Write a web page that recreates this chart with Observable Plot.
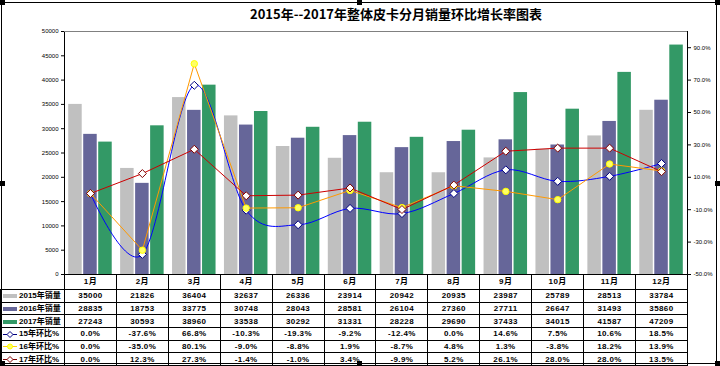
<!DOCTYPE html>
<html>
<head>
<meta charset="utf-8">
<script src="https://cdn.jsdelivr.net/npm/d3@7"></script>
<script src="https://cdn.jsdelivr.net/npm/@observablehq/plot@0.6"></script>
<style>
  html, body { margin: 0; padding: 0; background: #fff; }
  #root { position: relative; width: 720px; height: 366px; overflow: hidden; font-family: "Liberation Sans", "Noto Sans CJK SC", sans-serif; }
  #title { position: absolute; top: 4px; left: 396px; transform: translateX(-50%); white-space: nowrap; font: bold 13px "Noto Sans CJK SC", sans-serif; line-height: 20px; color: #000; }
  .layer { position: absolute; left: 0; top: 0; }
  .layer svg { overflow: visible; background: transparent; }
  #tbl { position: absolute; left: 0; top: 274px; border-collapse: collapse; table-layout: fixed; width: 687px; font: bold 8px "Liberation Sans", "Noto Sans CJK SC", sans-serif; color: #000; letter-spacing: 0.4px; }
  #tbl td { padding: 0; text-align: center; border: 1px solid #000; height: 11.7px; line-height: 11px; white-space: nowrap; overflow: hidden; }
  #tbl tr.head td { height: 15px; border-top: none; }
  #tbl tr.head td.corner { border-left: none; border-top: none; }
  #tbl td.lab { text-align: left; padding-left: 2px; letter-spacing: 0; }
  #tbl td.lab svg { vertical-align: middle; margin-right: 1px; }
  #border { position: absolute; left: 1px; top: 2px; width: 716px; height: 362px; border: 1px solid #000; box-sizing: border-box; pointer-events: none; }
  .h { position: absolute; width: 5px; height: 5px; background: #000; }
</style>
</head>
<body>
<div id="root">
  <div id="border"></div>
  <div id="title">2015年--2017年整体皮卡分月销量环比增长率图表</div>
  <div id="bars" class="layer"></div>
  <div id="lines" class="layer"></div>
  <table id="tbl"></table>
  <div class="h" style="left:0;top:0"></div>
  <div class="h" style="left:357px;top:0"></div>
  <div class="h" style="left:715px;top:0"></div>
  <div class="h" style="left:0;top:181px"></div>
  <div class="h" style="left:715px;top:181px"></div>
  <div class="h" style="left:0;top:361px"></div>
  <div class="h" style="left:357px;top:361px"></div>
  <div class="h" style="left:715px;top:361px"></div>
</div>
<script>
const months = ["1月","2月","3月","4月","5月","6月","7月","8月","9月","10月","11月","12月"];
const barSeries = ["2015年销量","2016年销量","2017年销量"];
const barColors = ["#C0C0C0","#666699","#339966"];
const sales2015 = [35000,21826,36404,32637,26336,23914,20942,20935,23987,25789,28513,33784];
const sales2016 = [28835,18753,33775,30748,28043,28581,26104,27360,27711,26647,31493,35860];
const sales2017 = [27243,30593,38960,33538,30292,31331,28228,29690,37433,34015,41587,47209];
const pctSeries = ["15年环比%","16年环比%","17年环比%"];
const pct15 = [0.0,-37.6,66.8,-10.3,-19.3,-9.2,-12.4,0.0,14.6,7.5,10.6,18.5];
const pct16 = [0.0,-35.0,80.1,-9.0,-8.8,1.9,-8.7,4.8,1.3,-3.8,18.2,13.9];
const pct17 = [0.0,12.3,27.3,-1.4,-1.0,3.4,-9.9,5.2,26.1,28.0,28.0,13.5];
const leftTicks = [0,5000,10000,15000,20000,25000,30000,35000,40000,45000,50000];
const rightTicks = [-50,-30,-10,10,30,50,70,90];

const salesArrays = [sales2015, sales2016, sales2017];
const pctArrays = [pct15, pct16, pct17];
const bars = [];
months.forEach((m, i) => barSeries.forEach((s, j) => bars.push({month: m, series: s, value: salesArrays[j][i]})));
const pctRows = pctSeries.map((s, j) => months.map((m, i) => ({month: m, series: s, value: pctArrays[j][i]})));

const W = 720, H = 280, mL = 64, mR = 33, mT = 31, mB = 6;

const barPlot = Plot.plot({
  width: W, height: H,
  marginLeft: mL, marginRight: mR, marginTop: mT, marginBottom: mB,
  style: {fontSize: "6px", fontFamily: "Liberation Sans, sans-serif", background: "transparent", color: "#000"},
  fx: {domain: months, padding: 0, round: false, axis: null, label: null},
  x: {domain: barSeries, paddingInner: 0.1, paddingOuter: 0.28, round: false, axis: null},
  y: {domain: [0, 50000], ticks: leftTicks, tickSize: 3, tickPadding: 3, tickFormat: d3.format("d"), label: null},
  color: {domain: barSeries, range: barColors},
  marks: [
    Plot.barY(bars, {fx: "month", x: "series", y: "value", fill: "series"})
  ]
});
document.getElementById("bars").appendChild(barPlot);

const lineColors = ["#0000FF", "#FF9900", "#CC0000"];
const lineCurves = ["cardinal", "linear", "linear"];
const dotStyles = [
  {symbol: "diamond2", r: 3.6, fill: "#FFFFFF", stroke: "#000080"},
  {symbol: "circle", r: 3.2, fill: "#FFFF66", stroke: "#FFFF00"},
  {symbol: "diamond2", r: 3.6, fill: "#FFFFFF", stroke: "#800000"}
];
const lineMarks = [];
pctRows.forEach((rows, j) => {
  lineMarks.push(Plot.line(rows, {x: "month", y: "value", stroke: lineColors[j], strokeWidth: 1, curve: lineCurves[j]}));
});
pctRows.forEach((rows, j) => {
  lineMarks.push(Plot.dot(rows, {x: "month", y: "value", ...dotStyles[j], strokeWidth: 1}));
});

const linePlot = Plot.plot({
  width: W, height: H,
  marginLeft: mL, marginRight: mR, marginTop: mT, marginBottom: mB,
  style: {fontSize: "6px", fontFamily: "Liberation Sans, sans-serif", background: "transparent", color: "#000"},
  x: {type: "band", domain: months, padding: 0, round: false, axis: null},
  y: {domain: [-50, 100], axis: "right", ticks: rightTicks, tickSize: 3, tickPadding: 3, tickFormat: d => d.toFixed(1) + "%", label: null},
  marks: [
    Plot.frame({stroke: "#000"}),
    Plot.ruleY([100], {stroke: "#808080"}),
    ...lineMarks
  ]
});
document.getElementById("lines").appendChild(linePlot);

// data table
function keySvg(kind, j) {
  if (kind === "bar") {
    return `<svg width="15" height="6"><rect x="0" y="1" width="14" height="4" fill="${barColors[j]}"/></svg>`;
  }
  const ds = dotStyles[j];
  const lc = j === 0 ? "#000080" : j === 1 ? "#FFD700" : "#800000";
  const marker = ds.symbol === "circle"
    ? `<circle cx="7" cy="3.5" r="2.5" fill="${ds.fill}" stroke="${ds.stroke}"/>`
    : `<path d="M7,0.5L10,3.5L7,6.5L4,3.5Z" fill="#fff" stroke="${ds.stroke}"/>`;
  return `<svg width="15" height="7"><line x1="0" x2="14" y1="3.5" y2="3.5" stroke="${lc}"/>${marker}</svg>`;
}
const tbl = document.getElementById("tbl");
const colW = (720 - mL - mR) / 12;
let html = `<colgroup><col style="width:${mL}px">` + months.map(() => `<col style="width:${colW}px">`).join("") + `</colgroup>`;
html += `<tr class="head"><td class="corner"></td>` + months.map(m => `<td>${m}</td>`).join("") + `</tr>`;
barSeries.forEach((s, j) => {
  html += `<tr><td class="lab">${keySvg("bar", j)}${s}</td>` + salesArrays[j].map(v => `<td>${v}</td>`).join("") + `</tr>`;
});
pctSeries.forEach((s, j) => {
  html += `<tr><td class="lab">${keySvg("line", j)}${s}</td>` + pctArrays[j].map(v => `<td>${v.toFixed(1)}%</td>`).join("") + `</tr>`;
});
tbl.innerHTML = html;
</script>
</body>
</html>
